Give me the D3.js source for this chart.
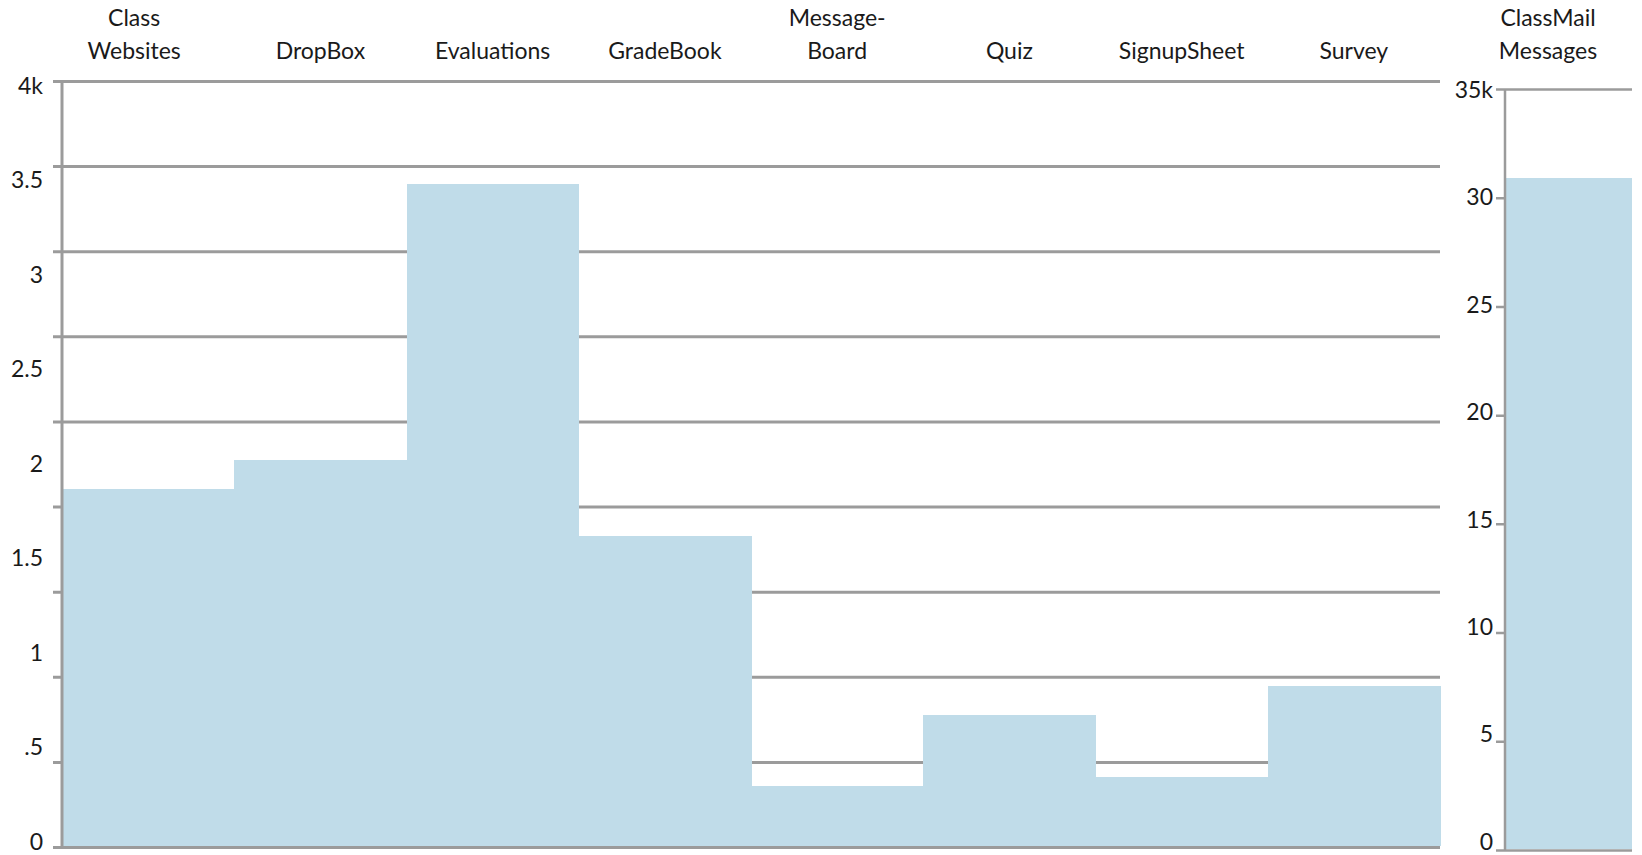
<!DOCTYPE html>
<html>
<head>
<meta charset="utf-8">
<script src="https://cdn.jsdelivr.net/npm/d3@7"></script>
<style>
  body { margin: 0; background: #fff; }
  text { font-family: Lato, "Open Sans", sans-serif; fill: #1a1a1a; }
</style>
</head>
<body>
<div class="viz"></div>
<script>
// data
var categories = ["Class Websites", "DropBox", "Evaluations", "GradeBook", "Message-Board", "Quiz", "SignupSheet", "Survey"];
var labelLines = [["Class", "Websites"], ["DropBox"], ["Evaluations"], ["GradeBook"], ["Message-", "Board"], ["Quiz"], ["SignupSheet"], ["Survey"]];
var counts = [1870, 2020, 3460, 1625, 320, 690, 365, 840];
var leftTicks = [0, 500, 1000, 1500, 2000, 2500, 3000, 3500, 4000];
var leftTickLabels = ["0", ".5", "1", "1.5", "2", "2.5", "3", "3.5", "4k"];

var mailCategory = ["ClassMail Messages"];
var mailLines = ["ClassMail", "Messages"];
var mailCounts = [30900];
var rightTicks = [0, 5000, 10000, 15000, 20000, 25000, 30000, 35000];
var rightTickLabels = ["0", "5", "10", "15", "20", "25", "30", "35k"];

var w = 1642;
var h = 855;
var barColor = "#c0dce9";
var gridColor = "#9b9b9b";
var fontSize = "23px";

var svg = d3.select(".viz")
    .append("svg")
    .attr("width", w)
    .attr("height", h);

// ---------- left panel ----------
var x0 = 62, x1 = 1440;
var yTop = 81, yBase = 847;

var xScale = d3.scaleBand()
    .domain(categories)
    .range([x0, x1])
    .padding(0);

var yScale = d3.scaleLinear()
    .domain([0, 4000])
    .range([yBase, yTop]);

// gridlines split the axis in nine steps
var gridValues = d3.range(10).map(function(i) { return i * 4000 / 9; });

var grid = svg.append("g")
    .attr("transform", "translate(" + x0 + ",0)")
    .call(d3.axisLeft(yScale).tickValues(gridValues).tickFormat("").tickSizeOuter(0));
grid.select(".domain").remove();
grid.selectAll(".tick line")
    .attr("x1", -9)
    .attr("x2", x1 - x0)
    .attr("stroke", gridColor)
    .attr("stroke-width", 3);

svg.selectAll("rect.bar")
    .data(counts)
    .enter()
    .append("rect")
    .attr("class", "bar")
    .attr("x", function(d, i) { return xScale(categories[i]); })
    .attr("y", function(d) { return yScale(d); })
    .attr("width", xScale.bandwidth() + 0.5)
    .attr("height", function(d) { return yScale(0) - yScale(d) - 1; })
    .attr("fill", barColor)
    .attr("shape-rendering", "crispEdges");

// baseline and axis line
svg.append("line")
    .attr("x1", x0).attr("x2", x1)
    .attr("y1", yScale(0)).attr("y2", yScale(0))
    .attr("stroke", gridColor).attr("stroke-width", 2);
svg.append("line")
    .attr("x1", x0).attr("x2", x0)
    .attr("y1", yTop).attr("y2", yBase + 1)
    .attr("stroke", gridColor).attr("stroke-width", 3);

// tick labels
var labelScale = d3.scaleLinear()
    .domain([0, 4000])
    .range([842, 86]);

var yLabels = svg.append("g")
    .attr("transform", "translate(" + x0 + ",0)")
    .call(d3.axisLeft(labelScale)
        .tickValues(leftTicks)
        .tickSize(0)
        .tickPadding(19)
        .tickFormat(function(d, i) { return leftTickLabels[i]; }));
yLabels.select(".domain").remove();
yLabels.selectAll("text")
    .attr("font-size", fontSize)
    .attr("font-family", "Lato, sans-serif")
    .attr("fill", "#1a1a1a");

// category labels
var catText = svg.selectAll("text.cat")
    .data(labelLines)
    .enter()
    .append("text")
    .attr("class", "cat")
    .attr("text-anchor", "middle")
    .attr("font-size", fontSize);
catText.each(function(lines, i) {
    var cx = xScale(categories[i]) + xScale.bandwidth() / 2;
    if (i == 0) cx -= 14;
    var t = d3.select(this);
    lines.forEach(function(line, j) {
        t.append("tspan")
            .attr("x", cx)
            .attr("y", 59 - (lines.length - 1 - j) * 33)
            .text(line);
    });
});

// ---------- right panel ----------
var rx0 = 1505, rx1 = 1632;

var xScaleR = d3.scaleBand()
    .domain(mailCategory)
    .range([rx0 + 1, rx1]);

var yScaleR = d3.scaleLinear()
    .domain([0, 35000])
    .range([850, 89]);

var gridR = svg.append("g")
    .attr("transform", "translate(" + rx0 + ",0)")
    .call(d3.axisLeft(yScaleR).tickValues(rightTicks).tickFormat("").tickSizeOuter(0));
gridR.select(".domain").remove();
gridR.selectAll(".tick line")
    .attr("x1", -9)
    .attr("x2", rx1 - rx0)
    .attr("stroke", gridColor)
    .attr("stroke-width", 2.5);

svg.selectAll("rect.mail")
    .data(mailCounts)
    .enter()
    .append("rect")
    .attr("class", "mail")
    .attr("x", function(d, i) { return xScaleR(mailCategory[i]); })
    .attr("y", function(d) { return yScaleR(d); })
    .attr("width", xScaleR.bandwidth())
    .attr("height", function(d) { return yScaleR(0) - yScaleR(d) - 1; })
    .attr("fill", barColor)
    .attr("shape-rendering", "crispEdges");

svg.append("line")
    .attr("x1", rx0).attr("x2", rx0)
    .attr("y1", yScaleR(35000)).attr("y2", yScaleR(0) + 1)
    .attr("stroke", gridColor).attr("stroke-width", 2.5);

// labels sit a little above the ticks near the bottom, as in the source
var labelScaleR = d3.scaleLinear()
    .domain([0, 35000])
    .range([842, 90]);

var yLabelsR = svg.append("g")
    .attr("transform", "translate(" + rx0 + ",0)")
    .call(d3.axisLeft(labelScaleR)
        .tickValues(rightTicks)
        .tickSize(0)
        .tickPadding(12)
        .tickFormat(function(d, i) { return rightTickLabels[i]; }));
yLabelsR.select(".domain").remove();
yLabelsR.selectAll("text")
    .attr("font-size", fontSize)
    .attr("font-family", "Lato, sans-serif")
    .attr("fill", "#1a1a1a");

var mailText = svg.append("text")
    .attr("text-anchor", "middle")
    .attr("font-size", fontSize);
mailLines.forEach(function(line, j) {
    mailText.append("tspan")
        .attr("x", 1548)
        .attr("y", 26 + j * 33)
        .text(line);
});
</script>
</body>
</html>
